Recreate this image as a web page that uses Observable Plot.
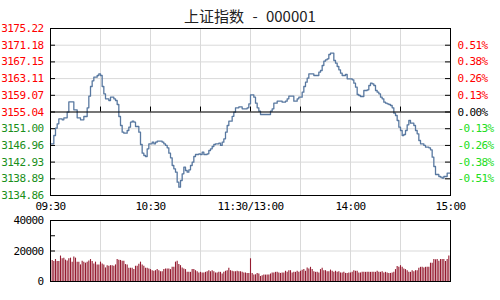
<!DOCTYPE html>
<html><head><meta charset="utf-8">
<script src="https://cdn.jsdelivr.net/npm/d3@7"></script>
<script src="https://cdn.jsdelivr.net/npm/@observablehq/plot@0.6"></script>
<style>
body{margin:0;background:#fff;}
#wrap{position:relative;width:500px;height:300px;overflow:hidden;background:#fff}
#title{position:absolute;left:0;top:6px;width:500px;text-align:center;font:15px "Noto Sans CJK SC",sans-serif;color:#222;line-height:20px;word-spacing:5px;white-space:pre}
#price{position:absolute;left:0;top:0}
#vol{position:absolute;left:0;top:215px}
svg text{letter-spacing:-0.6px}
</style></head><body>
<div id="wrap"><div id="price"></div><div id="vol"></div><div id="title">上证指数 - 000001</div></div>
<script>
const prevClose = 3155.04;
const priceTicks = [3134.86,3138.89,3142.93,3146.96,3151.00,3155.04,3159.07,3163.11,3167.15,3171.18,3175.22];
const pctTicks = [3138.89,3142.93,3146.96,3151.00,3155.04,3159.07,3163.11,3167.15,3171.18];
const pctLabels = ["-0.51%","-0.38%","-0.26%","-0.13%","0.00%","0.13%","0.26%","0.38%","0.51%"];
const gridMinutes = [0,30,60,90,120,150,180,210,240];
const timeTicks = [0,60,120,180,240];
const timeLabels = ["09:30","10:30","11:30/13:00","14:00","15:00"];
const priceMinutes = [0,2,3,4,5,7,8,10,11,14,16,18,20,22,23,24,25,26,28,29,30,31,32,33,35,36,38,39,40,41,42,43,44,46,47,48,49,50,51,53,54,55,56,57,58,59,61,62,63,64,67,68,69,70,71,72,73,74,75,76,77,78,79,80,81,82,83,84,85,86,87,89,90,91,92,94,95,96,97,98,99,101,102,103,104,105,106,107,109,110,111,113,115,118,119,120,122,123,124,125,126,132,133,134,136,139,141,142,143,146,148,149,151,152,153,154,155,158,161,162,163,164,165,166,167,168,170,171,172,173,174,175,177,178,181,182,183,184,185,186,188,190,191,192,193,194,195,196,197,198,199,200,201,202,203,204,205,206,207,208,209,210,211,212,213,214,215,216,218,219,220,221,222,224,225,227,228,229,230,231,233,234,235,236,238,240];
const priceValues = [3147.35,3149.36,3151.13,3152.18,3153.39,3153.15,3153.63,3155.00,3157.50,3155.56,3153.63,3153.15,3153.95,3156.05,3158.87,3161.20,3162.57,3163.46,3163.86,3164.27,3163.86,3161.20,3159.43,3158.22,3157.82,3158.63,3158.22,3157.82,3156.85,3153.95,3151.78,3150.17,3149.93,3150.57,3151.37,3152.58,3152.82,3152.58,3151.54,3150.17,3147.19,3145.09,3144.53,3144.29,3146.14,3147.35,3147.75,3147.35,3147.75,3148.00,3147.75,3147.35,3146.95,3146.38,3145.09,3143.96,3142.11,3141.30,3140.50,3138.08,3136.87,3138.49,3140.10,3141.71,3140.90,3140.50,3141.06,3142.11,3142.92,3144.29,3144.77,3144.93,3144.77,3145.33,3144.77,3144.93,3145.74,3146.14,3146.70,3147.19,3147.35,3147.51,3146.95,3147.75,3148.55,3150.17,3151.78,3152.82,3154.00,3155.00,3156.05,3156.30,3155.81,3156.05,3157.01,3159.19,3158.63,3157.17,3156.05,3155.24,3154.44,3155.24,3155.81,3157.17,3157.66,3157.42,3157.66,3158.22,3158.87,3157.66,3158.22,3158.63,3159.83,3161.20,3162.25,3163.22,3164.27,3163.86,3164.67,3165.07,3166.28,3167.33,3167.65,3167.89,3168.94,3169.26,3167.49,3166.84,3166.04,3165.23,3164.43,3163.86,3164.10,3163.06,3162.81,3162.01,3161.04,3159.27,3159.03,3158.79,3160.24,3160.40,3161.45,3162.01,3161.85,3161.45,3160.24,3159.83,3159.43,3158.63,3158.22,3157.42,3157.17,3157.01,3156.85,3156.61,3156.05,3154.76,3154.20,3152.99,3151.37,3150.57,3149.36,3149.60,3150.57,3151.94,3152.99,3152.34,3151.78,3150.57,3149.76,3148.15,3147.35,3146.95,3146.54,3146.38,3145.90,3144.13,3141.87,3139.94,3139.45,3139.29,3139.05,3139.45,3140.26,3140.26];
const volumeValues = [13800,13100,14400,13100,13100,16700,14900,15300,14000,13500,14900,15300,12700,16000,15300,12700,12700,10900,13300,12700,12000,12700,13500,14400,13100,11500,12700,10900,10900,12700,11500,10900,8900,10400,10000,10400,10400,10000,10900,14400,14000,13800,13300,13300,11100,10900,8700,8700,8700,7800,10000,10000,11300,12700,10900,10000,8700,8700,8200,7800,7100,6700,7100,7800,7100,6400,6400,7800,8200,8200,8200,7800,9300,9300,12700,13300,11100,10400,8900,8200,7800,6000,6000,6000,7800,7800,7100,6400,5600,6000,5600,5600,6000,6400,7100,6400,7100,6400,5600,5600,6000,6000,4900,6000,6700,7100,8700,7100,6700,6400,6400,6700,6400,6400,6000,5600,5600,5300,5300,14900,
5300,4200,4400,5300,4900,3300,3800,4200,4200,4200,4200,4900,5600,5600,6000,6000,5600,5300,5600,5600,6700,6000,7100,7100,5600,6000,6000,6700,6000,6700,7300,7800,6700,8900,8200,9300,7800,6400,6000,6000,5600,7800,8700,7100,7100,6400,6400,7500,6700,6000,6700,6000,6400,5600,5600,6000,5300,5300,5600,5600,6000,7100,6700,6700,5600,5600,6000,6000,6000,6000,6000,6000,6000,6000,6000,6700,6000,6000,6400,5600,6000,5600,5300,5300,5600,6000,7800,9800,9300,10400,9300,8200,7800,7100,6000,6000,7100,6400,7100,7100,8700,9300,9300,8900,9300,9300,9300,12000,12000,14400,14200,14400,13300,14400,14400,14400,13100,14400,16700];
const volTicks = [0,20000,40000];
const volLabels = ["0","20000","40000"];
const volMinorTicks = [20000,30000];

const mono = "'DejaVu Sans Mono', monospace";
const priceData = priceMinutes.map((m,i)=>({m, p: priceValues[i]}));
const volData = volumeValues.map((v,i)=>({m: i+1, v}));
const grid = "#d9d9d9";

const p1 = Plot.plot({
  width:500, height:215, marginTop:28, marginBottom:20, marginLeft:50, marginRight:50,
  x:{domain:[0,240], axis:null},
  y:{domain:[3134.86,3175.22], axis:null},
  style:{fontFamily:mono, fontSize:"11px", background:"transparent", overflow:"visible"},
  marks:[
    Plot.ruleX(gridMinutes, {stroke:grid, strokeOpacity:1}),
    Plot.ruleY(priceTicks, {stroke:grid, strokeOpacity:1}),
    Plot.lineY(priceData, {x:"m", y:"p", curve:"step-after", stroke:"#5878a0", strokeWidth:1.3}),
    Plot.ruleY([prevClose], {stroke:"#000", strokeWidth:1}),
    Plot.ruleX(gridMinutes.slice(1,-1), {y1:prevClose, y2:prevClose+1.2, stroke:"#000"}),
    Plot.ruleY(priceTicks, {x1:0, x2:3, stroke:"#000"}),
    Plot.ruleY(priceTicks, {x1:237, x2:240, stroke:"#000"}),
    Plot.frame({stroke:"#000"}),
    Plot.text(priceTicks, {y:d=>d, frameAnchor:"left", dx:-7, textAnchor:"end", text:d=>d.toFixed(2), fill:d=>d>=prevClose?"#ff0000":"#1a8f1a"}),
    Plot.text(pctTicks, {y:d=>d, frameAnchor:"right", dx:7, textAnchor:"start", text:(d,i)=>pctLabels[i], fill:d=>d>prevClose?"#ff0000":(d<prevClose?"#22dd22":"#000")}),
    Plot.text(timeTicks, {x:d=>d, frameAnchor:"bottom", dy:14, text:(d,i)=>timeLabels[i], fill:"#000"})
  ]
});
document.getElementById("price").appendChild(p1);

const p2 = Plot.plot({
  width:500, height:85, marginTop:5, marginBottom:19, marginLeft:50, marginRight:50,
  x:{domain:[0,240], axis:null},
  y:{domain:[0,40000], axis:null},
  style:{fontFamily:mono, fontSize:"11px", background:"transparent", overflow:"visible"},
  marks:[
    Plot.ruleX(gridMinutes, {stroke:grid, strokeOpacity:1}),
    Plot.ruleY([20000], {stroke:grid, strokeOpacity:1}),
    Plot.ruleX(volData, {x:"m", y1:0, y2:"v", stroke:"#951b30", strokeWidth:1.1}),
    Plot.ruleY(volMinorTicks, {x1:0, x2:3, stroke:"#000"}),
    Plot.frame({stroke:"#000"}),
    Plot.text(volTicks, {y:d=>d, frameAnchor:"left", dx:-7, textAnchor:"end", text:(d,i)=>volLabels[i], fill:"#000"})
  ]
});
document.getElementById("vol").appendChild(p2);
</script>
</body></html>
